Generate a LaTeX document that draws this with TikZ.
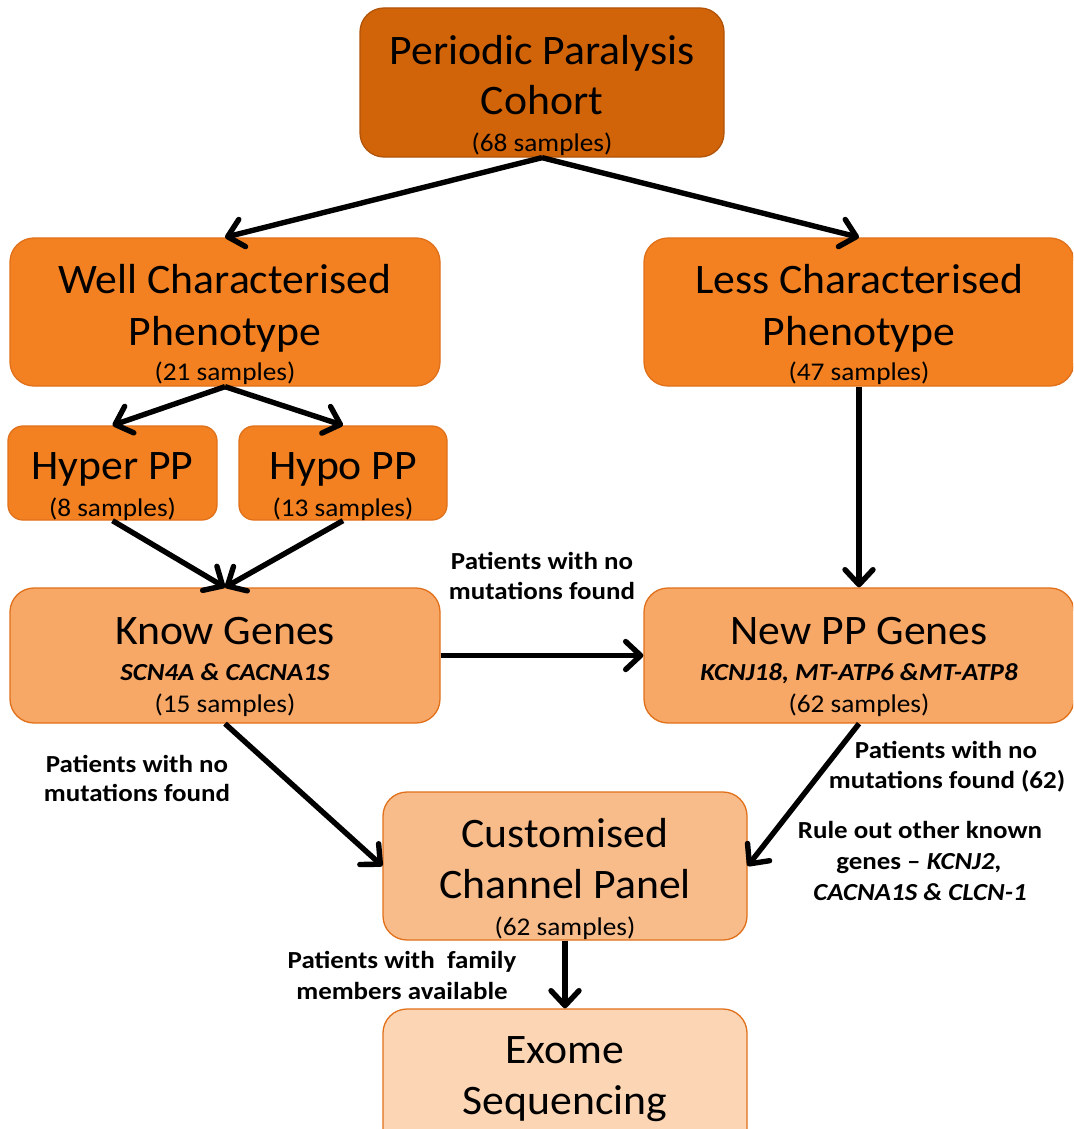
\documentclass[tikz,border=0pt]{standalone}
\usepackage{fontspec}
\setmainfont{Carlito}
\newfontfamily\wideA[FakeStretch=1.04]{Carlito}
\newfontfamily\wideB[FakeStretch=1.07]{Carlito}
\newfontfamily\wideC[FakeStretch=1.1]{Carlito}
\usetikzlibrary{arrows.meta}
\definecolor{cTop}{HTML}{D16309}
\definecolor{cMid}{HTML}{F38121}
\definecolor{cKnow}{HTML}{F7A766}
\definecolor{cCust}{HTML}{F8BB8A}
\definecolor{cEx}{HTML}{FBD5B4}
\definecolor{cLine}{HTML}{E0701A}
\tikzset{
  box/.style={draw=cLine, line width=1.3pt, rounded corners=24pt, inner sep=0pt},
  sbox/.style={draw=cLine, line width=1.3pt, rounded corners=15pt, inner sep=0pt},
  ttl/.style={anchor=base, inner sep=0pt, font=\wideA\fontsize{42}{50}\selectfont},
  smp/.style={anchor=base, inner sep=0pt, font=\wideB\fontsize{25.5}{30}\selectfont},
  gen/.style={anchor=base, inner sep=0pt, font=\wideC\fontsize{24.5}{28}\selectfont\bfseries\itshape},
  lbl/.style={anchor=base, inner sep=0pt, font=\wideC\fontsize{24.5}{29}\selectfont\bfseries},
  arr/.style={line width=5.4pt, -{Straight Barb[length=15pt,width=28pt,round]}}
}
\begin{document}
\begin{tikzpicture}[x=1pt,y=-1pt]
\useasboundingbox (0,0) rectangle (1073,1129);
\clip (0,0) rectangle (1073,1129);
% boxes
\node[box, fill=cTop, draw=cTop!85!black, minimum width=364pt, minimum height=149pt] (top) at (542,82.5) {};
\node[box, fill=cMid, minimum width=430pt, minimum height=148pt] (well) at (225,312) {};
\node[box, fill=cMid, minimum width=430pt, minimum height=148pt] (less) at (859,312) {};
\node[sbox, fill=cMid, minimum width=209pt, minimum height=94pt] (hyper) at (112.5,473) {};
\node[sbox, fill=cMid, minimum width=208pt, minimum height=94pt] (hypo) at (343,473) {};
\node[box, fill=cKnow, minimum width=430pt, minimum height=135pt] (know) at (225,655.5) {};
\node[box, fill=cKnow, minimum width=430pt, minimum height=135pt] (new) at (859,655.5) {};
\node[box, fill=cCust, minimum width=364pt, minimum height=148pt] (cust) at (565,866) {};
\node[box, fill=cEx, minimum width=364pt, minimum height=148pt] (exome) at (565,1083) {};
% box texts
\node[ttl] (t1) at (542,65) {Periodic Paralysis};
\node[ttl] (t2) at (542,115) {Cohort};
\node[smp] (t3) at (542,151) {(68 samples)};
\node[ttl] (w1) at (225,293) {Well Characterised};
\node[ttl] (w2) at (225,345) {Phenotype};
\node[smp] (w3) at (225,380) {(21 samples)};
\node[ttl] (l1) at (859,293) {Less Characterised};
\node[ttl] (l2) at (859,345) {Phenotype};
\node[smp] (l3) at (859,380) {(47 samples)};
\node[ttl] (h1) at (112.5,479) {Hyper PP};
\node[smp] (h2) at (112.5,516) {(8 samples)};
\node[ttl] (p1) at (343,479) {Hypo PP};
\node[smp] (p2) at (343,516) {(13 samples)};
\node[ttl] (k1) at (225,644) {Know Genes};
\node[gen] (k2) at (225,680) {SCN4A \& CACNA1S};
\node[smp] (k3) at (225,712) {(15 samples)};
\node[ttl] (n1) at (859,644) {New PP Genes};
\node[gen] (n2) at (859,680) {KCNJ18, MT-ATP6 \&MT-ATP8};
\node[smp] (n3) at (859,712) {(62 samples)};
\node[ttl] (c1) at (565,847) {Customised};
\node[ttl] (c2) at (565,898) {Channel Panel};
\node[smp] (c3) at (565,935) {(62 samples)};
\node[ttl] (e1) at (565,1063) {Exome};
\node[ttl] (e2) at (565,1114) {Sequencing};
% labels
\node[lbl] (m1) at (542,569) {Patients with no};
\node[lbl] (m2) at (542,599) {mutations found};
\node[lbl] (a1) at (137,772) {Patients with no};
\node[lbl] (a2) at (137,801) {mutations found};
\node[lbl] (r1) at (946,758) {Patients with no};
\node[lbl] (r2) at (947,788) {mutations found (62)};
\node[lbl] (o1) at (920,838) {Rule out other known};
\node[lbl] (o2) at (919,869) {genes – \textit{KCNJ2,}};
\node[lbl] (o3) at (920,900) {\textit{CACNA1S \& CLCN-1}};
\node[lbl] (f1) at (402,968) {Patients with\ \ family};
\node[lbl] (f2) at (402,999) {members available};
% connectors
\draw[arr] (top.south) -- (well.north);
\draw[arr] (top.south) -- (less.north);
\draw[arr] (well.south) -- (hyper.north);
\draw[arr] (well.south) -- (hypo.north);
\draw[arr] (hyper.south) -- (know.north);
\draw[arr] (hypo.south) -- (know.north);
\draw[arr] (less.south) -- (new.north);
\draw[arr] (know.east) -- (new.west);
\draw[arr] (know.south) -- (cust.west);
\draw[arr] (new.south) -- (cust.east);
\draw[arr] (cust.south) -- (exome.north);
\end{tikzpicture}
\end{document}
